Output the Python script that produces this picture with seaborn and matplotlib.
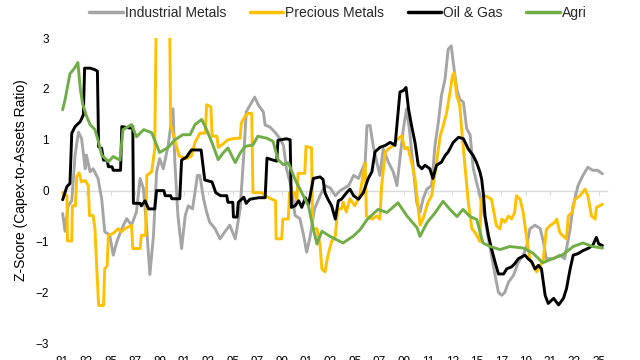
import matplotlib
matplotlib.use("Agg")
import matplotlib.pyplot as plt
import pandas as pd
import seaborn as sns


OUTPUT_FILENAME = "out.png"

SERIES = ["Industrial Metals", "Precious Metals", "Oil & Gas", "Agri"]
COLORS = ["#A5A5A5", "#FFC000", "#000000", "#70AD47"]

TICK_YEARS = list(range(1981, 2026, 2))
TICK_LABELS = [f"{y % 100:02d}" for y in TICK_YEARS]

ind_years = [
    1981.05, 1981.25, 1981.5, 1981.8, 1982.07, 1982.35, 1982.6, 1982.9, 1983.0, 1983.3,
    1983.55, 1983.95, 1984.25, 1984.5, 1984.9, 1985.2, 1985.5, 1985.9, 1986.3, 1986.7,
    1987.1, 1987.4, 1987.66, 1987.9, 1988.2, 1988.5, 1988.75, 1989.0, 1989.3, 1989.7,
    1990.1, 1990.25, 1990.5, 1990.8, 1991.1, 1991.35, 1991.7, 1992.1, 1992.3, 1992.6,
    1992.85, 1993.1, 1993.55, 1993.95, 1994.35, 1994.75, 1995.2, 1995.6, 1995.9, 1996.1,
    1996.55, 1996.8, 1997.1, 1997.5, 1997.65, 1998.05, 1998.45, 1998.87, 1999.15, 1999.4,
    1999.8, 2000.1, 2000.5, 2000.8, 2001.05, 2001.3, 2001.7, 2002.15, 2002.55, 2003.0,
    2003.4, 2003.8, 2004.5, 2004.9, 2005.3, 2005.85, 2006.0, 2006.25, 2006.5, 2006.8,
    2007.05, 2007.33, 2007.75, 2008.15, 2008.45, 2008.7, 2008.98, 2009.25, 2009.5, 2009.8,
    2010.07, 2010.35, 2010.6, 2010.9, 2011.3, 2011.57, 2011.85, 2012.1, 2012.4, 2012.65,
    2012.9, 2013.07, 2013.35, 2013.6, 2013.9, 2014.17, 2014.45, 2014.7, 2014.97, 2015.4,
    2015.67, 2015.95, 2016.2, 2016.5, 2016.77, 2017.04, 2017.3, 2017.6, 2018.0, 2018.4,
    2018.8, 2019.1, 2019.35, 2019.77, 2020.2, 2020.45, 2020.7, 2021.3, 2021.8, 2022.2,
    2022.65, 2022.9, 2023.3, 2023.7, 2024.1, 2024.5, 2024.9, 2025.3,
]
ind_vals = [
    -0.45, -0.8, -0.3, -0.2, 0.7, 1.15, 1.03, 0.43, 0.7, 0.37,
    0.43, 0.24, -0.16, -0.81, -0.87, -1.27, -1.0, -0.75, -0.55, -0.68,
    -0.42, 0.24, 0.05, -0.6, -1.65, -0.87, 0.37, 0.63, 0.43, 0.89,
    1.61, 0.56, -0.49, -1.14, -0.49, -0.3, -0.36, 0.3, 0.3, -0.16,
    -0.42, -0.62, -0.75, -0.95, -0.81, -0.68, -0.95, -0.36, 0.7, 1.55,
    1.74, 1.84, 1.68, 1.55, 1.29, 1.25, 1.15, 1.02, 0.89, 0.43,
    0.05, -0.49, -0.55, -0.88, -1.21, -0.95, -0.36, -0.1, 0.1, 0.05,
    -0.1, 0.0, 0.1, 0.3, 0.24, 0.56, 1.28, 1.28, 0.89, 0.56,
    0.3, 0.82, 0.56, 0.37, 0.1, 0.63, 1.22, 1.61, 1.15, 0.43,
    -0.23, -0.42, -0.16, 0.03, 0.1, 0.89, 1.35, 1.87, 2.2, 2.78,
    2.85, 2.52, 2.0, 1.8, 1.74, 1.22, 1.1, 0.45, 0.17, -0.23,
    -0.55, -0.95, -1.27, -1.67, -2.0, -2.06, -2.0, -1.8, -1.67, -1.41,
    -1.27, -1.08, -0.75, -0.68, -0.75, -1.0, -1.34, -1.34, -1.27, -1.34,
    -0.75, -0.29, 0.1, 0.3, 0.46, 0.4, 0.4, 0.33,
]

prec_years = [
    1981.05, 1981.4, 1981.45, 1981.8, 1981.85, 1982.1, 1982.2, 1982.4, 1982.6, 1982.9,
    1983.15, 1983.25, 1983.55, 1983.7, 1983.85, 1984.0, 1984.4, 1984.5, 1984.7, 1984.8,
    1985.2, 1985.6, 1985.85, 1986.15, 1986.7, 1986.8, 1987.4, 1987.5, 1987.85, 1987.95,
    1988.35, 1988.6, 1988.75, 1989.8, 1989.9, 1990.3, 1990.6, 1991.2, 1991.6, 1991.9,
    1992.3, 1992.75, 1992.85, 1993.2, 1993.3, 1993.7, 1993.8, 1994.1, 1994.6, 1995.2,
    1995.6, 1995.7, 1996.0, 1996.25, 1996.55, 1996.65, 1997.35, 1997.65, 1998.2, 1998.5,
    1998.55, 1999.0, 1999.1, 1999.55, 1999.65, 2000.1, 2000.25, 2000.35, 2000.9, 2001.0,
    2001.45, 2001.55, 2001.9, 2002.15, 2002.3, 2002.55, 2002.8, 2003.1, 2003.4, 2003.6,
    2003.9, 2004.05, 2004.3, 2004.6, 2005.0, 2005.4, 2005.7, 2005.85, 2005.95, 2006.4,
    2006.8, 2007.05, 2007.2, 2007.35, 2007.5, 2007.75, 2008.15, 2008.55, 2008.85, 2009.1,
    2009.35, 2009.65, 2009.93, 2010.2, 2010.35, 2010.6, 2011.0, 2011.3, 2011.57, 2012.0,
    2012.25, 2012.53, 2012.8, 2013.0, 2013.15, 2013.35, 2013.6, 2013.75, 2014.0, 2014.3,
    2014.6, 2014.85, 2015.25, 2015.35, 2015.67, 2016.2, 2016.35, 2016.6, 2016.9, 2017.05,
    2017.3, 2017.6, 2017.85, 2018.1, 2018.25, 2018.55, 2018.8, 2019.1, 2019.35, 2019.63,
    2019.9, 2020.2, 2020.45, 2020.7, 2021.0, 2021.4, 2021.55, 2021.8, 2022.05, 2022.35,
    2022.5, 2022.8, 2023.05, 2023.45, 2023.87, 2024.1, 2024.4, 2024.7, 2024.8, 2025.3,
]
prec_vals = [
    -0.04, -0.1, -0.99, -0.99, -0.3, -0.3, 0.28, 0.35, 0.17, 0.2,
    0.1, -0.49, -0.49, -0.75, -1.54, -2.26, -2.26, -1.54, -1.48, -0.88,
    -0.84, -0.75, -0.81, -0.75, -0.68, -1.14, -1.14, -0.88, -0.88, 0.3,
    0.37, 0.82, 4.0, 4.0, 1.3, 0.95, 0.68, 0.63, 0.68, 0.95,
    1.13, 1.13, 1.69, 1.65, 1.07, 1.07, 0.85, 0.9, 1.0, 1.03,
    1.03, 1.33, 1.46, 1.52, 1.52, -0.04, -0.04, -0.1, -0.17, -0.2,
    -0.95, -0.95, -0.56, -0.56, -0.04, -0.04, -0.23, 0.34, 0.34, 0.87,
    0.84, -0.75, -0.75, -1.08, -1.54, -1.6, -1.27, -1.0, -0.9, -0.36,
    -0.36, -0.23, -0.42, -0.16, -0.3, -0.1, 0.34, 0.54, -0.5, -0.56,
    -0.5, -0.56, 0.1, 0.43, 0.76, 0.82, 0.89, 1.02, 1.08, 0.82,
    0.85, 0.56, 0.24, -0.36, -0.68, -0.55, -0.23, -0.1, 0.34, 1.08,
    1.28, 1.54, 1.93, 2.26, 2.32, 1.87, 1.68, 1.22, 0.56, -0.23,
    -0.75, -0.82, -1.0, -0.17, -0.1, -0.17, -0.36, -0.69, -0.75, -0.56,
    -0.62, -0.5, -0.56, -0.43, -0.1, -0.17, -0.43, -0.95, -1.35, -1.48,
    -1.6, -1.48, -1.35, -0.76, -0.69, -0.62, -0.56, -0.82, -0.89, -0.95,
    -0.5, -0.43, -0.17, -0.1, 0.03, -0.1, -0.5, -0.56, -0.33, -0.27,
]

oil_years = [
    1981.05, 1981.4, 1981.65, 1981.8, 1982.07, 1982.5, 1982.75, 1982.85, 1983.3, 1983.7,
    1983.9, 1984.0, 1984.25, 1984.4, 1984.7, 1984.8, 1985.1, 1985.2, 1985.8, 1985.9,
    1986.6, 1986.8, 1986.85, 1987.4, 1987.5, 1987.8, 1988.1, 1988.6, 1988.75, 1989.35,
    1989.45, 1989.9, 1990.0, 1990.65, 1990.8, 1991.2, 1991.6, 1992.4, 1992.7, 1993.3,
    1993.6, 1994.0, 1994.5, 1994.6, 1995.0, 1995.05, 1995.35, 1995.45, 1995.9, 1996.1,
    1996.4, 1997.1, 1997.65, 1997.8, 1998.3, 1998.6, 1998.7, 1999.4, 1999.7, 1999.8,
    2000.1, 2000.4, 2000.65, 2000.95, 2001.2, 2001.6, 2002.15, 2002.4, 2002.55, 2002.8,
    2003.1, 2003.4, 2003.65, 2003.9, 2004.33, 2004.6, 2004.9, 2005.3, 2005.7, 2006.1,
    2006.4, 2006.65, 2007.05, 2007.5, 2007.9, 2008.3, 2008.45, 2008.7, 2008.98, 2009.2,
    2009.4, 2009.65, 2009.93, 2010.2, 2010.5, 2010.75, 2011.15, 2011.4, 2011.7, 2012.1,
    2012.4, 2012.65, 2013.07, 2013.5, 2013.9, 2014.3, 2014.7, 2014.97, 2015.25, 2015.4,
    2015.55, 2015.67, 2015.95, 2016.2, 2016.5, 2016.77, 2017.2, 2017.45, 2017.85, 2018.1,
    2018.4, 2018.95, 2019.2, 2019.5, 2019.77, 2020.05, 2020.3, 2020.6, 2020.85, 2021.3,
    2021.7, 2022.1, 2022.35, 2022.65, 2022.9, 2023.3, 2023.7, 2024.1, 2024.5, 2024.8,
    2025.0, 2025.3,
]
oil_vals = [
    -0.18, 0.08, 0.14, 1.13, 1.26, 1.36, 1.49, 2.41, 2.41, 2.38,
    2.35, 0.86, 0.83, 0.6, 0.6, 0.47, 0.47, 0.4, 0.4, 1.26,
    1.23, 1.26, -0.25, -0.25, -0.3, -0.2, -0.36, -0.36, 0.0, 0.0,
    -0.1, -0.1, -0.16, -0.16, 0.6, 0.66, 0.8, 0.8, 0.21, 0.17,
    -0.04, -0.1, -0.1, -0.23, -0.23, -0.52, -0.52, -0.23, -0.13, -0.25,
    -0.17, -0.14, -0.14, 0.64, 0.6, 0.58, 0.99, 1.02, 1.0, -0.33,
    -0.3, -0.2, -0.33, -0.14, -0.28, 0.24, 0.27, 0.22, -0.04, -0.17,
    -0.3, -0.56, -0.2, -0.17, -0.04, 0.03, -0.1, -0.17, -0.04, 0.24,
    0.37, 0.76, 0.85, 0.89, 0.95, 0.89, 1.28, 1.94, 1.97, 2.03,
    1.61, 1.28, 0.95, 0.5, 0.43, 0.5, 0.43, 0.24, 0.5, 0.56,
    0.69, 0.76, 0.95, 1.05, 1.02, 0.82, 0.69, 0.56, 0.37, 0.22,
    -0.1, -0.49, -0.88, -1.14, -1.41, -1.64, -1.64, -1.54, -1.5, -1.44,
    -1.34, -1.27, -1.34, -1.4, -1.54, -1.47, -1.54, -2.06, -2.22, -2.12,
    -2.25, -2.12, -1.93, -1.54, -1.27, -1.24, -1.18, -1.14, -1.08, -0.92,
    -1.05, -1.08,
]

agri_years = [
    1981.05, 1981.25, 1981.65, 1982.0, 1982.3, 1982.5, 1982.7, 1983.0, 1983.3, 1983.7,
    1984.0, 1984.25, 1984.8, 1985.2, 1985.75, 1986.0, 1986.7, 1987.1, 1987.7, 1988.35,
    1989.0, 1989.7, 1990.25, 1990.9, 1991.5, 1991.9, 1992.45, 1992.85, 1993.3, 1993.8,
    1994.2, 1994.6, 1995.2, 1995.6, 1996.0, 1996.65, 1997.05, 1997.8, 1998.3, 1998.7,
    1999.15, 1999.55, 2000.1, 2000.65, 2001.2, 2001.6, 2001.9, 2002.3, 2002.97, 2004.03,
    2004.85, 2005.43, 2006.0, 2006.9, 2007.64, 2008.54, 2009.28, 2010.1, 2010.34, 2010.92,
    2011.57, 2012.23, 2012.8, 2013.38, 2013.87, 2014.44, 2015.0, 2015.5, 2016.1, 2016.9,
    2017.7, 2018.8, 2019.6, 2020.4, 2021.0, 2022.05, 2022.9, 2023.7, 2024.5, 2025.3,
]
agri_vals = [
    1.59, 1.79, 2.3, 2.4, 2.52, 2.0, 1.7, 1.47, 1.3, 1.2,
    0.95, 0.7, 0.57, 0.67, 0.6, 1.2, 1.3, 1.06, 1.2, 1.14,
    0.75, 0.85, 1.0, 1.1, 1.1, 1.3, 1.4, 1.2, 0.94, 0.61,
    0.74, 0.84, 0.55, 0.74, 0.87, 0.9, 1.07, 1.03, 0.97, 0.61,
    0.51, 0.55, 0.22, -0.04, -0.3, -0.76, -1.05, -0.8, -0.9, -1.03,
    -0.9, -0.77, -0.57, -0.37, -0.43, -0.24, -0.5, -0.73, -0.9, -0.63,
    -0.44, -0.21, -0.37, -0.51, -0.37, -0.51, -0.57, -1.03, -1.1, -1.16,
    -1.1, -1.13, -1.23, -1.42, -1.36, -1.26, -1.1, -1.03, -1.1, -1.13,
]


def build_frame():
    parts = []
    for name, yrs, vals in zip(
        SERIES,
        [ind_years, prec_years, oil_years, agri_years],
        [ind_vals, prec_vals, oil_vals, agri_vals],
    ):
        parts.append(pd.DataFrame({"year": yrs, "z": vals, "series": name}))
    return pd.concat(parts, ignore_index=True)


def main():
    df = build_frame()

    sns.set_theme(style="white")
    plt.rcParams["font.family"] = ["Liberation Sans", "DejaVu Sans"]

    fig = plt.figure(figsize=(6.4, 3.6), dpi=100)
    ax = fig.add_axes([0.095, 0.047, 0.854, 0.847])

    sns.lineplot(data=df, x="year", y="z", hue="series", hue_order=SERIES,
                 palette=COLORS, estimator=None, sort=False, linewidth=2.1, ax=ax)

    ax.set_xlim(1980.9, 2025.7)
    ax.set_ylim(-3, 3)
    ax.set_yticks(range(-3, 4))
    ax.set_xticks(TICK_YEARS)
    ax.set_xticklabels(TICK_LABELS)
    ax.tick_params(axis="both", length=0, labelsize=8.5, labelcolor="black")
    ax.tick_params(axis="x", pad=9)
    ax.tick_params(axis="y", pad=8.5)
    for spine in ax.spines.values():
        spine.set_visible(False)

    # zero line with small tick marks, like the Excel axis crossing at 0
    zero_axis = ax.secondary_xaxis(0.5)
    zero_axis.set_xticks(TICK_YEARS)
    zero_axis.set_xticklabels([])
    zero_axis.tick_params(axis="x", which="both", length=3, width=0.8,
                          color="#d9d9d9", direction="in",
                          labeltop=False, labelbottom=False)
    for spine in zero_axis.spines.values():
        spine.set_color("#d9d9d9")
        spine.set_linewidth(1.0)

    ax.set_xlabel("")
    ax.set_ylabel("Z-Score (Capex-to-Assets Ratio)", fontsize=10, color="black")
    ax.yaxis.set_label_coords(-0.06, 0.534)

    handles, labels = ax.get_legend_handles_labels()
    ax.get_legend().remove()
    leg = fig.legend(handles, labels, loc="center", bbox_to_anchor=(0.528, 0.964),
                     ncol=4, frameon=False, fontsize=10, handlelength=2.4,
                     handletextpad=0.15, columnspacing=1.7)
    for line in leg.get_lines():
        line.set_linewidth(2.5)

    fig.savefig(OUTPUT_FILENAME, dpi=100)


if __name__ == "__main__":
    main()
